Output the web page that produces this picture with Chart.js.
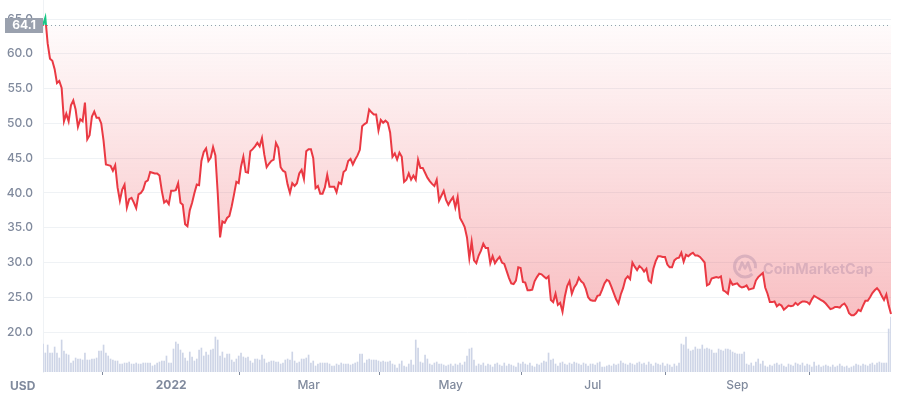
<!DOCTYPE html>
<html>
<head>
<meta charset="utf-8">
<script src="https://cdn.jsdelivr.net/npm/chart.js@4.4.0/dist/chart.umd.min.js"></script>
<style>
  html, body { margin: 0; padding: 0; background: #fff; }
  #wrap { width: 898px; height: 396px; position: relative; }
</style>
</head>
<body>
<div id="wrap"><canvas id="myChart"></canvas></div>
<script>
// first day of the series, one point per day
const startDate = '2021-11-07'

const price = [
  64.1,65.2,61.5,59.3,59.0,57.8,55.8,56.1,55.1,50.3,
  51.4,50.3,52.6,53.3,52.0,49.5,50.6,50.3,53.0,47.7,
  48.3,51.0,51.7,50.8,50.8,50.0,47.5,44.1,44.0,43.9,
  43.2,44.0,40.8,38.9,40.5,41.2,37.9,39.1,39.3,38.6,
  37.8,39.8,40.0,40.5,41.6,41.8,43.0,42.9,42.8,42.8,
  42.5,40.3,38.6,38.9,38.4,40.3,40.3,40.4,41.4,38.6,
  38.3,35.5,35.2,37.5,38.6,40.0,41.2,41.1,44.6,45.9,
  46.4,44.6,45.1,46.6,45.4,40.0,33.6,35.9,35.7,36.4,
  36.7,38.1,39.8,41.6,41.4,43.8,45.2,43.0,42.9,46.0,
  46.3,46.7,47.2,46.7,47.9,45.5,43.7,44.2,44.6,44.8,
  47.2,46.5,43.7,43.2,43.0,41.2,40.0,41.4,41.0,41.4,
  42.8,43.3,42.0,46.0,46.3,46.3,45.0,40.7,41.0,39.9,
  39.9,40.8,42.6,40.9,40.9,40.9,40.1,41.5,41.3,43.0,
  43.3,44.6,44.9,44.1,44.8,45.4,46.2,49.6,49.9,50.1,
  52.0,51.6,51.3,51.3,49.0,50.5,50.1,50.4,50.1,48.7,
  45.2,45.7,44.8,45.8,45.2,41.6,41.9,42.8,41.9,42.5,
  41.9,44.8,43.6,43.6,42.9,42.2,41.7,41.3,41.0,41.9,
  38.9,39.6,40.3,39.0,38.3,38.9,39.4,37.9,39.4,36.4,
  35.8,35.1,33.6,30.6,33.0,30.3,29.9,31.0,31.7,32.7,
  32.1,32.1,29.9,30.9,29.9,30.4,30.8,30.0,29.8,28.8,
  27.8,27.0,26.9,27.4,29.3,29.2,27.2,27.1,26.0,26.0,
  26.1,27.3,27.9,28.4,28.3,28.0,27.7,28.0,24.6,24.3,
  25.5,23.9,24.2,22.9,25.1,26.6,27.3,25.5,26.4,26.9,
  27.8,27.3,27.0,26.2,25.0,24.6,24.5,24.5,25.2,25.3,
  26.1,27.0,27.5,27.3,26.5,25.6,24.7,24.1,25.4,26.3,
  27.6,28.0,27.6,30.0,29.4,28.9,29.5,29.2,28.7,29.1,
  27.4,27.1,29.1,30.2,30.9,30.9,30.8,30.8,29.7,29.3,
  29.3,30.3,30.6,30.7,31.4,30.1,31.1,30.9,31.2,31.4,
  31.0,31.0,30.8,30.4,30.0,26.7,26.9,27.7,27.8,27.9,
  27.8,28.0,26.0,25.8,25.5,27.4,26.8,26.9,27.0,26.6,
  26.4,26.5,26.7,26.1,26.2,26.3,27.4,27.9,28.2,28.5,
  26.4,25.5,24.3,24.3,24.4,23.7,24.0,23.8,23.2,23.5,
  23.8,23.7,23.8,24.2,23.9,24.2,24.4,24.4,24.3,24.0,
  24.7,25.2,25.0,24.8,24.6,24.4,24.1,23.7,23.3,23.4,
  23.6,23.6,23.5,23.9,24.1,23.6,22.7,22.4,22.4,22.7,
  23.2,23.0,23.8,24.5,24.5,25.0,25.6,26.0,26.3,25.9,
  25.2,24.6,25.4,23.8,22.6
]

// daily volume, millions USD
const volume = [
  28,19,27,19,19,25,19,14,32,21,
  18,17,9,11,14,13,13,12,19,12,
  12,13,13,14,21,21,27,19,16,13,
  12,11,11,8,8,9,9,10,8,8,
  9,8,8,9,9,9,9,6,7,9,
  10,11,11,16,9,9,23,30,28,22,
  19,14,11,20,15,11,13,22,24,16,
  20,17,22,23,35,32,16,20,14,18,
  18,12,10,13,16,19,15,14,15,11,
  9,13,13,12,17,13,9,10,11,11,
  10,10,8,9,12,13,12,20,11,9,
  10,13,13,14,17,9,11,6,8,9,
  9,9,9,8,6,6,8,7,9,8,
  8,8,7,8,9,10,18,18,9,12,
  13,12,12,12,11,10,11,10,10,11,
  8,7,4,8,11,6,5,8,12,7,
  32,24,10,9,17,13,8,7,9,10,
  8,8,7,6,7,8,6,8,7,9,
  7,10,16,23,24,12,6,8,7,9,
  6,8,7,5,8,9,7,6,9,6,
  8,7,6,5,9,8,10,8,7,9,
  6,5,8,7,9,11,10,19,12,13,
  8,6,9,10,8,7,9,8,10,9,
  8,7,9,8,6,8,8,7,9,10,
  5,5,6,7,6,8,7,8,11,9,
  8,7,9,8,7,9,10,8,9,7,
  10,8,6,9,8,7,9,6,8,7,
  5,8,6,9,28,27,35,23,21,22,
  25,23,23,27,23,24,23,22,19,19,
  23,22,21,23,23,22,20,19,18,18,
  18,20,8,7,9,6,10,13,8,11,
  6,5,7,6,8,9,7,8,6,5,
  8,7,6,9,8,7,9,6,8,7,
  5,10,6,7,5,6,7,6,5,7,
  5,6,8,6,5,6,4,5,6,8,
  7,6,8,7,6,8,9,7,9,10,
  9,9,9,43,55
]

const tickDates = ['2022-01-01', '2022-03-01', '2022-05-01', '2022-07-01', '2022-09-01']
const tickLabels = ['2022', 'Mar', 'May', 'Jul', 'Sep']
const yTicks = [20, 25, 30, 35, 40, 45, 50, 55, 60, 65]
const currency = 'USD'
const brand = 'CoinMarketCap'

let labels = []
let d0 = new Date(startDate + 'T00:00:00Z')
for (let i = 0; i < price.length; i++) {
  let d = new Date(d0.getTime() + i * 86400000)
  labels.push(d.toISOString().slice(0, 10))
}
const tickIdx = tickDates.map(t => labels.indexOf(t))
const openPrice = price[0]
const minPrice = Math.min(...price)

const red = 'rgb(234, 57, 67)'
const green = 'rgb(22, 199, 132)'
const grey = '#808a9d'

function lineColor(context) {
  let chart = context.chart
  let area = chart.chartArea
  if (!area) return red
  let y = chart.scales.y
  let g = chart.ctx.createLinearGradient(0, area.top, 0, area.bottom)
  let t = (y.getPixelForValue(openPrice) - area.top) / (area.bottom - area.top)
  t = Math.min(Math.max(t, 0), 1)
  g.addColorStop(0, green)
  g.addColorStop(t, green)
  g.addColorStop(t, red)
  g.addColorStop(1, red)
  return g
}

function fillColor(context) {
  let chart = context.chart
  let area = chart.chartArea
  if (!area) return 'rgba(234, 57, 67, 0.15)'
  let y = chart.scales.y
  let g = chart.ctx.createLinearGradient(0, y.getPixelForValue(openPrice), 0, y.getPixelForValue(minPrice))
  g.addColorStop(0, 'rgba(234, 57, 67, 0.02)')
  g.addColorStop(1, 'rgba(234, 57, 67, 0.32)')
  return g
}

function noPad(s) {
  s.paddingTop = 0
  s.paddingBottom = 0
  s.paddingLeft = 0
  s.paddingRight = 0
}

const extras = {
  id: 'extras',
  beforeDatasetsDraw(chart) {
    let ctx = chart.ctx
    let area = chart.chartArea
    // watermark
    ctx.save()
    ctx.strokeStyle = 'rgba(150, 166, 200, 0.4)'
    ctx.fillStyle = 'rgba(150, 166, 200, 0.4)'
    ctx.lineWidth = 3
    let cx = area.right - 146, cy = 266.5
    ctx.beginPath()
    ctx.arc(cx, cy, 10.5, 0.25 * Math.PI, 2.05 * Math.PI)
    ctx.stroke()
    ctx.lineWidth = 2.6
    ctx.lineJoin = 'round'
    ctx.beginPath()
    ctx.moveTo(cx - 6, cy + 4)
    ctx.lineTo(cx - 3, cy - 4)
    ctx.lineTo(cx, cy + 2)
    ctx.lineTo(cx + 3, cy - 4)
    ctx.lineTo(cx + 6, cy + 5)
    ctx.stroke()
    ctx.font = 'bold 18px Inter'
    let w = ctx.measureText(brand).width
    let size = 18 * 110 / w
    ctx.font = 'bold ' + size.toFixed(1) + 'px Inter'
    ctx.textBaseline = 'alphabetic'
    ctx.fillText(brand, cx + 18, cy + 7)
    ctx.restore()

    // open price dotted line
    let yOpen = chart.scales.y.getPixelForValue(openPrice)
    ctx.save()
    ctx.strokeStyle = '#98a0ae'
    ctx.lineWidth = 1
    ctx.setLineDash([1, 3])
    ctx.beginPath()
    ctx.moveTo(area.left, Math.round(yOpen) + 0.5)
    ctx.lineTo(area.right, Math.round(yOpen) + 0.5)
    ctx.stroke()
    ctx.restore()
  },
  afterDraw(chart) {
    let ctx = chart.ctx
    let area = chart.chartArea
    let yOpen = chart.scales.y.getPixelForValue(openPrice)
    ctx.save()
    ctx.fillStyle = '#9aa1ae'
    ctx.fillRect(5, Math.round(yOpen) - 7, area.left - 5, 15)
    ctx.fillStyle = '#fff'
    ctx.font = 'bold 12px Inter'
    ctx.textAlign = 'center'
    ctx.textBaseline = 'middle'
    ctx.fillText(openPrice.toFixed(1), (5 + area.left) / 2, Math.round(yOpen) + 0.5)

    ctx.fillStyle = grey
    ctx.textAlign = 'left'
    ctx.fillText(currency, 10, 386)
    ctx.restore()
  }
}

let ctx = document.getElementById('myChart').getContext('2d')
let chart = new Chart(ctx, {
  type: 'line',
  data: {
    labels: labels,
    datasets: [{
      label: 'Price',
      data: price,
      yAxisID: 'y',
      borderColor: lineColor,
      backgroundColor: fillColor,
      borderWidth: 2,
      pointRadius: 0,
      tension: 0,
      fill: { value: openPrice, above: 'rgba(22, 199, 132, 0.12)' },
      order: 1
    }, {
      type: 'bar',
      label: 'Volume',
      data: volume,
      yAxisID: 'v',
      backgroundColor: '#cdd4e6',
      barThickness: 1,
      order: 2
    }]
  },
  options: {
    responsive: true,
    maintainAspectRatio: false,
    animation: false,
    layout: { padding: { left: 0, right: 7, top: 0, bottom: 0 } },
    plugins: { legend: { display: false }, tooltip: { enabled: false } },
    scales: {
      x: {
        offset: false,
        afterBuildTicks: s => { s.ticks = tickIdx.map(v => ({ value: v })) },
        afterFit: s => { s.height = 24; noPad(s) },
        grid: { drawOnChartArea: false, drawTicks: true, tickLength: 3, color: grey },
        border: { display: false },
        ticks: {
          autoSkip: false,
          maxRotation: 0,
          padding: 3,
          color: grey,
          font: c => ({ family: 'Inter', size: 12, weight: c.tick && c.tick.label === '2022' ? 'bold' : '500' }),
          callback: v => tickLabels[tickIdx.indexOf(v)]
        }
      },
      y: {
        position: 'left',
        min: 14.25,
        max: 67.75,
        afterBuildTicks: s => { s.ticks = yTicks.map(v => ({ value: v })) },
        afterFit: s => { s.width = 43; noPad(s) },
        grid: { color: '#eff2f5', drawTicks: false },
        border: { display: true, color: '#eff2f5' },
        ticks: {
          padding: 10,
          color: grey,
          font: { family: 'Inter', size: 12, weight: '500' },
          callback: v => v.toFixed(1)
        }
      },
      v: {
        display: false,
        min: 0,
        max: 372
      }
    }
  },
  plugins: [extras]
})
</script>
</body>
</html>
